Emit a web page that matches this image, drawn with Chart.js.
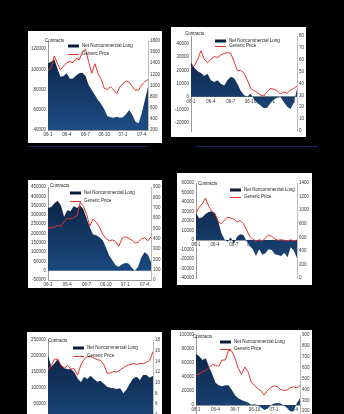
<!DOCTYPE html>
<html>
<head>
<meta charset="utf-8">
<script src="https://cdn.jsdelivr.net/npm/chart.js@4.4.1/dist/chart.umd.min.js"></script>
<style>
html, body { margin: 0; padding: 0; background: #000; width: 344px; height: 414px; overflow: hidden; }
.box { position: absolute; background: #fff; }
.rule { position: absolute; height: 1px; background: #16245a; }
</style>
</head>
<body>
<div class="rule" style="left:28px;top:146px;width:120px"></div>
<div class="rule" style="left:195px;top:146px;width:123px"></div>
<script>
// half-month periods, Jan 2006 - May 2007
var periods = ['2006-01-01','2006-01-15','2006-02-01','2006-02-15','2006-03-01','2006-03-15',
  '2006-04-01','2006-04-15','2006-05-01','2006-05-15','2006-06-01','2006-06-15',
  '2006-07-01','2006-07-15','2006-08-01','2006-08-15','2006-09-01','2006-09-15',
  '2006-10-01','2006-10-15','2006-11-01','2006-11-15','2006-12-01','2006-12-15',
  '2007-01-01','2007-01-15','2007-02-01','2007-02-15','2007-03-01','2007-03-15',
  '2007-04-01','2007-04-15','2007-05-01'];
var tickLabels = ['06-1', '06-4', '06-7', '06-10', '07-1', '07-4'];

var net1 = [106000,107500,110000,101000,92700,93400,96000,90700,91000,94000,96000,96700,93400,84500,79500,74600,69700,65700,60400,53800,52500,52200,53100,52200,52500,55800,59800,54800,48200,46600,56500,69700,82800];
var price1 = [1266,1320,1530,1400,1280,1350,1410,1430,1410,1490,1460,1610,1650,1430,1220,1390,1220,1110,950,930,980,920,850,980,1030,1080,1060,980,910,920,1010,1070,1110];

var net2 = [25900,21900,19200,17900,15700,17300,12500,11200,12500,9900,8500,12500,15200,13900,9900,4500,1300,0,2400,-2100,-4800,-6700,-8800,-8300,-4800,-2100,-800,-300,-4000,-7500,-9300,-4800,5900];
var price2 = [53.6,54.7,60.4,67.6,60.4,57.5,60.4,62.6,62.0,64.0,65.4,66.0,65.4,58.4,50.8,51.0,48.6,42.9,35.9,34.0,32.3,30.3,29.5,33.4,35.9,35.1,34.0,31.2,32.8,31.7,34.5,35.9,37.9];

var net3 = [336800,342000,362800,376700,350700,290000,324600,319400,347200,336800,350700,329800,281200,232600,194400,191000,180500,163200,125000,81600,55600,29500,20800,34700,41700,38200,17400,0,20800,72900,99000,86800,46900];
var price3 = [503,506,512,528,521,565,596,590,605,621,751,714,636,521,590,559,512,441,403,379,388,372,326,403,419,403,388,357,366,397,410,379,419];

var net4 = [28100,22800,23900,27400,29500,30200,28400,20400,7700,700,-1800,2800,-4200,3500,6000,5300,-700,-6300,-9800,-16800,-9800,-15400,-14000,-9800,-10500,-15100,-15800,-16800,-13300,-18200,-7700,-11200,-19300];
var price4 = [958,1046,1095,1179,1056,982,948,835,801,850,899,884,869,820,850,801,712,614,575,540,565,545,589,634,614,575,555,565,555,545,565,545,560];

var net5 = [203000,166700,177100,190600,171900,161500,158300,159400,148900,130200,117700,135400,128100,138500,128100,119800,122900,113500,104200,101000,99000,96900,99000,83300,96900,114600,130200,135400,125000,140600,140600,132300,138500];
var price5 = [12.4,13.2,14.4,14.4,13.2,12.8,13.2,12.6,12.6,11.4,13.3,14.4,14.9,14.9,14.6,14.3,14.2,13.4,11.8,11.8,12.1,12.0,12.4,12.8,13.2,13.4,13.6,13.4,13.6,13.6,13.8,14.2,15.8];

var net6 = [73200,69700,64400,66800,54600,43900,31700,28300,26800,28300,28300,21900,14100,9800,7300,5400,3400,500,1000,0,-3400,-7300,-5400,-500,2000,2900,2000,-500,-4400,-8800,-9300,2400,9800];
var price6 = [532,544,562,575,599,630,621,612,670,670,759,753,686,594,538,606,562,470,433,409,385,348,391,415,433,426,401,391,394,415,424,415,433];

var NAVY_TOP = '#0a1d3c';
var NAVY_BOT = '#1d4d85';
var RED = '#e3342b';
var FONT = { family: '"Liberation Sans", Arial, sans-serif', size: 4.5 };

// small legend + unit label drawn inside the plot, like the original
var miniLegend = {
    id: 'miniLegend',
    afterDatasetsDraw: function(chart, args, o) {
        var ctx = chart.ctx;
        ctx.save();
        ctx.font = '4.5px "Liberation Sans", Arial, sans-serif';
        ctx.textBaseline = 'middle';
        ctx.fillStyle = '#222';
        ctx.fillText('Contracts', o.ux, o.uy);
        ctx.fillStyle = NAVY_TOP;
        ctx.fillRect(o.x, o.y - 1.5, 11, 3);
        ctx.fillStyle = '#222';
        ctx.fillText(chart.data.datasets[1].label, o.x + 14, o.y);
        ctx.strokeStyle = RED;
        ctx.lineWidth = 1;
        ctx.beginPath();
        ctx.moveTo(o.x, Math.round(o.y + o.gap) + 0.5);
        ctx.lineTo(o.x + 11, Math.round(o.y + o.gap) + 0.5);
        ctx.stroke();
        ctx.fillText(chart.data.datasets[0].label, o.x + 14, o.y + o.gap);
        ctx.restore();
    }
};

function areaFill(c) {
    var a = c.chart.chartArea;
    if (!a) return NAVY_TOP;
    var g = c.chart.ctx.createLinearGradient(0, a.top, 0, a.bottom);
    g.addColorStop(0, NAVY_TOP);
    g.addColorStop(1, NAVY_BOT);
    return g;
}

function num(v) { return String(v); }

// ticks on whole multiples of the step, even when min/max are not
function stepTicks(step) {
    return function(s) {
        var t = [];
        for (var v = Math.ceil(s.min / step) * step; v <= s.max + 1e-9; v += step) {
            t.push({ value: Math.round(v * 100) / 100 });
        }
        s.ticks = t;
    };
}

function drawPanel(p) {
    var box = document.createElement('div');
    box.className = 'box';
    box.style.left = p.x + 'px';
    box.style.top = p.y + 'px';
    box.style.width = p.w + 'px';
    box.style.height = p.h + 'px';
    var cv = document.createElement('canvas');
    cv.width = p.w;
    cv.height = p.h;
    box.appendChild(cv);
    document.body.appendChild(box);

    new Chart(cv, {
        type: 'line',
        data: {
            labels: periods,
            datasets: [{
                label: 'Generic Price',
                data: p.price,
                yAxisID: 'y1',
                borderColor: RED,
                borderWidth: 1,
                pointRadius: 0,
                tension: 0,
                fill: false,
                order: 0
            }, {
                label: 'Net Noncommercial Long',
                data: p.net,
                yAxisID: 'y',
                borderColor: 'rgba(0,0,0,0)',
                borderWidth: 1,
                backgroundColor: areaFill,
                pointRadius: 0,
                tension: 0,
                fill: p.fill,
                order: 1
            }]
        },
        options: {
            responsive: false,
            animation: false,
            devicePixelRatio: 1,
            layout: { padding: { top: p.top, bottom: p.bottom, left: 0, right: 0 } },
            plugins: {
                legend: { display: false },
                tooltip: { enabled: false },
                miniLegend: p.legend
            },
            scales: {
                x: {
                    position: p.xAtZero ? { y: 0 } : 'bottom',
                    grid: { display: false, drawTicks: false },
                    border: { color: '#999' },
                    ticks: {
                        autoSkip: false, maxRotation: 0, minRotation: 0,
                        padding: 2, font: FONT, color: '#333',
                        callback: function(v, i) { return i % 6 === 0 ? tickLabels[i / 6] : ''; }
                    },
                    afterFit: p.xAtZero ? undefined : function(s) { s.height = p.xh; }
                },
                y: {
                    position: 'left',
                    min: p.left[0], max: p.left[1],
                    grid: { display: false, drawTicks: false },
                    border: { color: '#999' },
                    ticks: { padding: 2, font: FONT, color: '#333', callback: num },
                    afterBuildTicks: stepTicks(p.left[2]),
                    afterFit: function(s) { s.width = p.lw; }
                },
                y1: {
                    position: 'right',
                    min: p.right[0], max: p.right[1],
                    grid: { display: false, drawTicks: false },
                    border: { color: '#bbb' },
                    ticks: { padding: 2, font: FONT, color: '#333', callback: num },
                    afterBuildTicks: stepTicks(p.right[2]),
                    afterFit: function(s) { s.width = p.rw; }
                }
            }
        },
        plugins: [miniLegend]
    });
}

drawPanel({ x: 28, y: 31, w: 134, h: 112, lw: 20, rw: 14, top: 10, bottom: 0, xh: 13,
    net: net1, price: price1, left: [40000, 128000, 20000], right: [200, 1800, 200], fill: 'start', xAtZero: false,
    legend: { x: 40, y: 15, gap: 8, ux: 17, uy: 9.5 } });

drawPanel({ x: 171, y: 27, w: 135, h: 110, lw: 20, rw: 9, top: 9, bottom: 6,
    net: net2, price: price2, left: [-26000, 46000, 10000], right: [0, 80, 10], fill: 'origin', xAtZero: true,
    legend: { x: 44, y: 14, gap: 5, ux: 14, uy: 6.5 } });

drawPanel({ x: 28, y: 180, w: 134, h: 108, lw: 20, rw: 11, top: 7, bottom: 0, xh: 8,
    net: net3, price: price3, left: [-50000, 450000, 50000], right: [0, 900, 100], fill: 'origin', xAtZero: false,
    legend: { x: 42, y: 13, gap: 8, ux: 22, uy: 5.5 } });

drawPanel({ x: 177, y: 173, w: 135, h: 112, lw: 19, rw: 15, top: 10, bottom: 7,
    net: net4, price: price4, left: [-40000, 60000, 10000], right: [0, 1400, 200], fill: 'origin', xAtZero: true,
    legend: { x: 53, y: 17, gap: 7, ux: 21, uy: 11 } });

drawPanel({ x: 27, y: 332, w: 135, h: 110, lw: 21, rw: 9, top: 8, bottom: 0, xh: 6,
    net: net5, price: price5, left: [-50000, 250000, 50000], right: [0, 18, 2], fill: 'origin', xAtZero: false,
    legend: { x: 46, y: 16, gap: 8, ux: 21, uy: 9 } });

drawPanel({ x: 171, y: 330, w: 141, h: 110, lw: 25, rw: 12, top: 5, bottom: 7,
    net: net6, price: price6, left: [-40000, 100000, 20000], right: [0, 900, 100], fill: 'origin', xAtZero: true,
    legend: { x: 49, y: 12, gap: 6.6, ux: 22, uy: 7 } });
</script>
</body>
</html>
